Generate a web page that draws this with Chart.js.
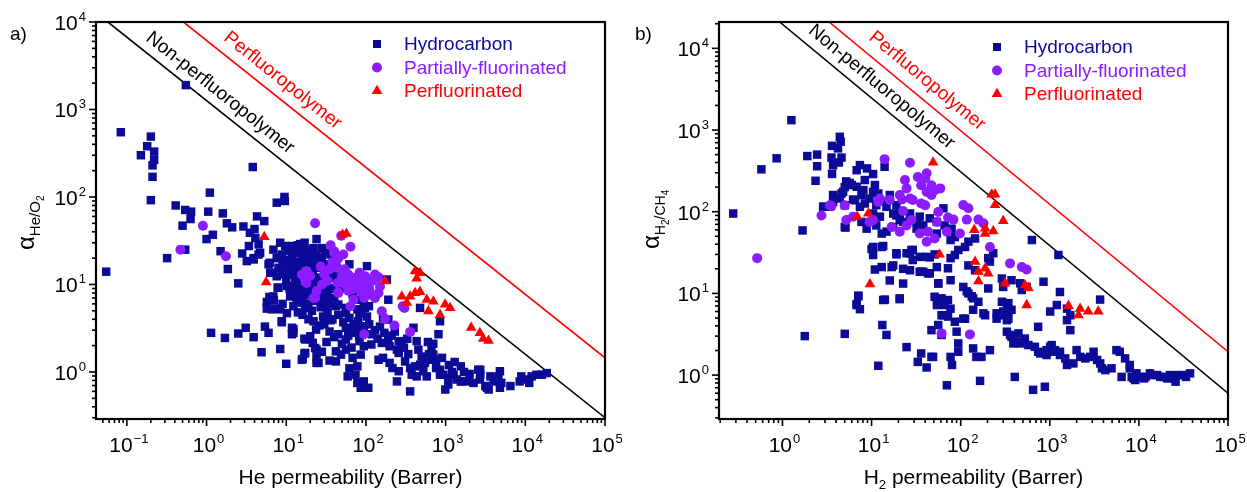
<!DOCTYPE html>
<html><head><meta charset="utf-8">
<script src="https://cdn.jsdelivr.net/npm/chart.js@4.4.0/dist/chart.umd.min.js"></script>
<style>
html,body{margin:0;padding:0;background:#fff;}
#wrap{position:relative;width:1247px;height:492px;overflow:hidden;background:#fff;}
.pane{position:absolute;top:0;height:492px;}
#pa{left:0;width:623px;}
#pb{left:623px;width:624px;}
canvas{display:block;}
</style></head><body>
<div id="wrap"><div class="pane" id="pa"><canvas id="ca" width="623" height="492"></canvas></div><div class="pane" id="pb"><canvas id="cb" width="624" height="492"></canvas></div></div>
<script>
// ---------------- DATA ----------------
const seriesNames = ['Hydrocarbon','Partially-fluorinated','Perfluorinated'];
const xTickExpsA = [-1,0,1,2,3,4,5];
const yTickExpsA = [0,1,2,3,4];
const xTickExpsB = [0,1,2,3,4,5];
const yTickExpsB = [0,1,2,3,4];

// Panel a: He permeability (Barrer) vs He/O2 selectivity
const hydroA = [[0.055,14],[0.084,550],[0.2,490],[0.18,380],[0.15,300],[0.22,330],[0.22,265],[0.21,230],[0.21,170],[0.2,92],[0.55,1900],[3.8,220],[0.41,80],[0.54,71],[0.64,68],[0.63,56],[0.5,47],[1.1,112],[1.05,68],[1.6,65],[1.8,50],[2.1,45],[1.0,33],[1.2,37],[2.9,46],[4.3,60],[5.3,53],[4,43],[3.5,39],[7.6,86],[9.5,100],[9.6,90],[24,33],[0.32,20],[0.54,25],[1.5,24],[1.85,15],[2.5,10.3],[2.8,22.6],[3.2,18.5],[3.9,19.3],[1.14,2.8],[1.7,2.45],[2.5,2.75],[3.1,3.2],[3.9,2.5],[5.4,3.3],[6,2.8],[4.9,1.68],[8.4,1.83],[8.8,3.7],[10,1.24],[12.3,3.1],[11.8,2.7],[16.9,1.62],[16.1,1.41],[16.9,2.4],[20,2.56],[21.5,2.15],[23.7,3.05],[24,1.27],[24,1.8],[5.7,6.3],[7,6.6],[5.7,5.3],[6.5,5.3],[8.2,5.3],[10.2,4.7],[7.8,9.2],[6.15,7.2],[6.2,17.7],[7.6,20],[6.3,13.6],[7.6,12.4],[4.7,23],[4.1,34],[3.4,27.5],[4.5,28.7],[3.9,20],[4.5,22],[6,17],[6.9,25],[8.4,30],[9.7,27.5],[11.8,27.5],[13.6,23],[15.7,22],[19,20],[22,17],[25.4,15.5],[8.8,22],[10.2,17],[8,15.5],[6.6,13.6],[9.2,13],[11.2,13.6],[13,15.5],[15,13],[8,9.2],[6.9,7.3],[6.6,5.2],[8.4,5.2],[8.8,3.8],[10.2,9.6],[11.2,7.3],[13.6,7.7],[15.7,6.2],[17.3,5.4],[12.3,5.65],[11.8,3.2],[12.3,2.8],[17.3,2.35],[23,1.88],[17.3,1.65],[15.7,1.38],[24,1.45],[25.4,1.27],[42,1.72],[48.7,1.58],[56,1.8],[68,1.45],[78,1.16],[62,1.1],[59,0.89],[74,0.93],[78,0.75],[94,0.78],[107,0.66],[42,1.32],[45,2.7],[56,3.2],[64,2.9],[70,3.5],[80,3.8],[83,2.25],[94,1.97],[56,2.35],[80,3.2],[94,2.9],[62,4.15],[45,4.5],[42,5.65],[56,5.4],[78,5.2],[94,6.4],[83,4.7],[103,4.3],[51,14.2],[62,17],[64,11.9],[83,6.7],[97,5.4],[103,16.2],[56,4.7],[45,5.9],[68,7.7],[183,11.4],[191,6.7],[478,5.4],[851,3.8],[813,2.7],[89,4.95],[109,5.65],[164,4.15],[191,3.97],[86,3.33],[82,2.56],[117,2.06],[158,2.15],[191,2.35],[198,1.97],[258,2.25],[245,1.8],[258,1.65],[395,3.2],[433,2.25],[455,1.8],[310,1.32],[86,1.58],[144,1.38],[164,1.45],[198,1.27],[215,1.11],[258,1.02],[359,1.11],[414,1.16],[478,1.21],[550,1.27],[630,1.38],[700,1.58],[665,1.8],[760,1.38],[580,0.89],[375,0.93],[433,0.89],[525,1.02],[245,0.78],[359,0.6],[86,0.66],[850,1.06],[935,0.93],[1080,0.85],[1260,0.93],[1380,0.82],[1590,0.78],[1950,0.78],[2240,0.75],[990,0.63],[1550,1.16],[2570,1.06],[2690,0.82],[3300,0.66],[2720,1.06],[2720,0.93],[3650,0.89],[4000,0.78],[3150,0.69],[3470,0.63],[4600,0.89],[5000,0.75],[4800,0.66],[6500,0.69],[8900,0.89],[10200,0.82],[12000,0.89],[13800,0.93],[16100,0.93],[18600,0.97],[8500,0.78],[11200,0.75],[4800,1.02],[760,1.11],[850,0.93],[1550,0.78],[1080,0.72],[12,20],[14,18],[16,25],[18,14],[20,11],[22,9],[26,12],[28,20],[30,8],[32,11],[34,6],[13,11],[15,9],[17,7.5],[19,6],[21,5],[24,6.5],[27,5.5],[30,14],[35,9],[38,12],[40,7],[10,11],[11,19],[14,28],[17,30],[19,25],[24,22],[28,26],[9,6],[12,8.5],[26,9.5],[33,17],[36,22],[45,11],[50,9],[40,16],[10.5,24],[16,11.5],[21,14],[23,19],[29,16],[31,23],[13.5,6.5],[18.5,8.5],[30,3.5],[35,2.9],[38,4],[32,2.2],[28,1.7],[35,1.35],[40,2.5],[50,2.1],[52,3.7],[60,2.6],[66,1.9],[72,2.8],[110,3.5],[120,2.7],[130,3],[140,2.4],[150,3.3],[170,2.8],[210,2.6],[230,2.9],[280,2.1],[300,1.9],[330,2.4],[340,1.6],[500,1.5],[600,2.2],[620,1.6],[700,2.1],[900,1.45],[1100,1.2],[1300,1.3],[1700,1.0],[2000,0.95],[1200,1.0],[11,15],[12.5,13],[14,16],[15.5,17.5],[17,19],[18.5,16],[20,14.5],[21.5,12.5],[23,11],[25,10],[27,8.5],[29,11.5],[31,9.5],[33,7.5],[36,6.5],[39,9],[42,13],[47,12],[55,9.8],[12,24],[13,26],[15,29],[17,21],[20,23],[22,26],[25,19],[27,17],[9,18],[10,14],[11,9],[13.5,9.5],[16,8],[18,10.5],[20,8],[23,8],[25,7],[28,6.8],[31,5.5],[14,4.8],[16,4.5],[19,4],[22,3.8],[26,3.4],[29,4.3],[33,4.8],[36,3.9]];
const partialA = [[0.47,25],[0.9,47],[1.75,21],[23,50],[49,36],[64,27],[40,24],[45,20],[42,17],[54,14.9],[15.7,13],[18,10.4],[24,8.4],[22,7],[44,10.4],[45,8.1],[62,10.4],[74,11.9],[83,13.6],[68,8.8],[70,6.7],[64,5.65],[88,8.4],[103,10.9],[98,12.4],[144,12.1],[102,10.4],[107,9.6],[89,8],[113,7.7],[144,8],[130,7],[158,4.95],[228,3.4],[304,5.4],[359,2.87],[95,2.7],[18,14.2],[40,23],[44,15.5],[58,11.4],[89,11.9],[174,4],[290,5.65],[28,10],[17.3,11.4],[23,7],[45,8],[30,13],[35,15],[38,18],[33,11],[50,12.5],[55,10],[60,13],[75,10],[80,9.5],[90,10],[120,11],[130,13],[150,9.5],[110,9],[95,7],[60,8.5],[52,22],[36,28],[27,16],[20,12.5]];
const perfluoroA = [[5.3,35],[5.6,10.6],[51,37],[57,38],[174,10.9],[414,14.2],[478,13.6],[433,11.7],[282,7.3],[359,7.3],[414,8],[478,8.25],[326,6.2],[580,6.7],[703,6.4],[608,4.95],[986,5.9],[1140,5.4],[851,4.5],[2090,3.2],[2690,2.8],[2960,2.4],[3450,2.28]];
const boundNonPerfA = [[0.0578,1e4],[1e5,0.30]];
const boundPerfA = [[0.513,1e4],[1e5,1.45]];

// Panel b: H2 permeability (Barrer) vs H2/CH4 selectivity
const hydroB = [[0.28,95],[1.26,1320],[0.58,330],[0.86,450],[1.68,59],[1.9,480],[2.45,500],[2.45,360],[2.35,239],[3.6,640],[4.4,826],[4.5,720],[4.2,596],[3.55,460],[4.6,460],[4.3,400],[3.7,370],[3.6,290],[2.9,115],[3.4,115],[3.7,132],[4.6,167],[5,200],[5.7,225],[5.1,64],[6.8,322],[7.4,372],[8.9,339],[8.4,244],[10.4,289],[14,355],[6.2,141],[7.4,115],[8.4,126],[10.4,95],[12.4,87],[14.7,115],[17.5,95],[20.7,79],[27,95],[34.7,87],[5.2,235],[6,212],[4.8,175],[6.8,202],[8.1,184],[7.7,160],[10.9,212],[10.4,175],[9.5,145],[6.5,138],[11.9,167],[3.7,160],[4.4,145],[2.86,115],[5,120],[11.3,120],[14.7,133],[16,160],[19,120],[20.7,100],[5,65],[7.7,75],[8.8,62],[11.3,68],[13,54],[14.7,57],[17.5,65],[19,90],[22.6,75],[27,83],[32,75],[32,62],[38,68],[45,83],[54,75],[10,35],[10.4,29.5],[13,37],[19,31],[24.7,31],[28,34],[34.7,28],[41.5,28],[51,30],[29,25.6],[38,18.4],[45,17.6],[10.9,19.6],[13,21],[16.8,21],[22.6,20],[27,19.2],[36,18.4],[16,14.4],[22.6,13.2],[7.1,9.4],[6.8,7.4],[7.4,6.4],[14.1,8.4],[20.7,8.7],[13.2,4.1],[14.7,3.1],[24.7,2.2],[47,3.55],[5,3.2],[1.78,3],[630,45],[1250,29.5],[850,13.9],[1300,10.4],[64,110],[66,68],[79,62],[86,49],[77,45],[54,54],[122,43],[145,47],[232,31],[204,27],[213,24.5],[77,27],[86,29.5],[94,34],[112,37],[72,20.3],[77,14.5],[56,13.3],[122,22],[145,19.2],[117,10.6],[133,9.2],[158,7.9],[204,11.5],[290,15.2],[300,12],[372,14.5],[465,13.3],[485,11],[550,12],[290,7.9],[330,7.3],[253,5.7],[300,6],[343,4.9],[372,6.3],[188,5.4],[253,4.9],[330,3.4],[372,2.94],[405,2.56],[465,2.44],[525,2.8],[575,2.33],[680,2.22],[740,1.93],[920,2.02],[1050,2.33],[1090,1.93],[1300,1.93],[740,3.9],[61,8.7],[72,8.3],[66,7.2],[77,6.5],[61,5.4],[86,4.5],[90,3.4],[112,4.9],[61,3.1],[780,1.84],[920,1.76],[1010,2.22],[1140,2.02],[1300,1.76],[1490,1.6],[1560,1.33],[1840,1.39],[2000,2.02],[2200,1.67],[2500,1.6],[2840,1.67],[3100,1.93],[3400,1.53],[3680,1.39],[3850,1.21],[4200,1.15],[4930,1.21],[5600,2.02],[6100,1.93],[7000,1.6],[7900,1.21],[6400,0.95],[8300,0.95],[9100,0.87],[10400,0.95],[11400,0.91],[13800,1.0],[16000,1.0],[19000,0.95],[20800,0.91],[25800,0.83],[27500,1.0],[32000,1.0],[37500,1.05],[7900,1.33],[9400,1.05],[8700,0.91],[11900,0.95],[13300,1.05],[17400,0.95],[22300,1.0],[24500,0.91],[33800,0.95],[1200,7.2],[1010,6],[1560,6.5],[1700,5.4],[1560,4.7],[1700,3.55],[3670,8.4],[650,0.66],[880,0.72],[405,0.95],[165,0.85],[358,3.1],[390,2.44],[465,2.56],[213,2.02],[138,2.12],[150,1.67],[171,1.67],[94,2.44],[94,1.93],[77,1.67],[80,1.33],[49,1.67],[70,0.75],[343,7.6],[343,6],[275,5.4],[330,4.7],[445,3.24],[180,5.7],[138,6.3],[107,12],[122,10],[138,8.7],[64,5.4],[72,5.2],[107,4.9],[7.1,9.2],[6.8,7.2],[10.4,37],[13.5,38],[19,30],[17.5,22],[13.5,8.3],[20.7,8.5],[36,1.84],[33,1.45],[41.5,1.24],[47,1.67],[11.9,1.3],[56,4.1],[54,7.2],[51,9.1],[34.7,18.4],[43,17.6],[45,27.6],[54,21],[56,13.2],[27,31],[29,34]];
const partialB = [[0.52,27],[14,440],[27,397],[2.74,90],[3.55,117],[5.2,79],[6.2,87],[10,78],[11.9,132],[16,139],[22,141],[23.7,244],[24.7,193],[29,139],[22.6,102],[41.5,295],[47,211],[51,182],[33,266],[40,255],[36,211],[41.5,175],[47,160],[20.7,160],[27,145],[36,126],[40,120],[28,79],[24.7,68],[20.7,57],[16.8,65],[12.4,145],[10.4,79],[9.5,75],[5,120],[3.4,120],[34.7,54],[43,57],[51,47],[41.5,43],[59,193],[107,121],[122,110],[72,85],[83,80],[117,80],[158,80],[180,72],[98,54],[70,57],[213,37],[358,23.3],[485,21],[550,19.6],[56,99],[54,75],[61,3.24],[127,3.15]];
const perfluoroB = [[6.9,87],[9.2,95],[9.6,13],[49,400],[58,30],[223,163],[243,163],[243,121],[300,77],[142,60],[188,62.5],[188,54],[232,58],[145,24.4],[158,18.4],[188,20.2],[204,17.6],[158,14.1],[315,13.3],[527,12.6],[575,11.7],[550,7.2],[1620,7.05],[2190,6.5],[2100,5.4],[2700,6],[3500,6]];
const boundNonPerfB = [[0.93,2.1e4],[1e5,0.60]];
const boundPerfB = [[3.34,2.1e4],[1e5,1.93]];

// ---------------- STYLE ----------------
const FONT = "'Liberation Sans', Arial, Helvetica, sans-serif";
const C_HYD = '#0b0b98', C_PAR = '#8a1cff', C_PER = '#ff0000';
const toPts = arr => arr.map(p => ({x:p[0], y:p[1]}));

function drawMarker(ctx, kind, x, y, color){
  ctx.fillStyle = color;
  ctx.beginPath();
  if(kind==='rect'){ ctx.rect(x-4, y-4, 8, 8); }
  else if(kind==='circle'){ ctx.arc(x, y, 5, 0, Math.PI*2); }
  else { const r=6.2; ctx.moveTo(x, y-r); ctx.lineTo(x+r*0.866, y+r/2); ctx.lineTo(x-r*0.866, y+r/2); ctx.closePath(); }
  ctx.fill();
}

function powLabel(ctx, exp, x, y, align){
  const base='10', sup=String(exp).replace('-','\u2212');
  ctx.font = '21px '+FONT; const wb = ctx.measureText(base).width;
  ctx.font = '13px '+FONT; const ws = ctx.measureText(sup).width;
  const w = wb+ws+1;
  let x0 = align==='center' ? x - w/2 : x - w;
  ctx.textAlign='left'; ctx.textBaseline='alphabetic';
  ctx.fillStyle='#000';
  ctx.font='21px '+FONT; ctx.fillText(base, x0, y);
  ctx.font='13px '+FONT; ctx.fillText(sup, x0+wb+1, y-9);
}

const deco = {
  id:'deco',
  afterDraw(chart, args, o){
    const ctx=chart.ctx, a=chart.chartArea, xs=chart.scales.x, ys=chart.scales.y;
    ctx.save();
    ctx.strokeStyle='#000'; ctx.lineWidth=1.6;
    const lx=Math.log10(xs.min), hx=Math.log10(xs.max), ly=Math.log10(ys.min), hy=Math.log10(ys.max);
    for(let e=Math.floor(lx); e<=Math.ceil(hx); e++){
      for(let m=1;m<10;m++){
        const v=m*Math.pow(10,e); const lv=Math.log10(v);
        if(lv<lx-1e-6||lv>hx+1e-6) continue;
        const px=xs.getPixelForValue(v); const len=m===1?7:4;
        ctx.beginPath(); ctx.moveTo(px,a.bottom); ctx.lineTo(px,a.bottom+len); ctx.stroke();
      }
    }
    for(let e=Math.floor(ly); e<=Math.ceil(hy); e++){
      for(let m=1;m<10;m++){
        const v=m*Math.pow(10,e); const lv=Math.log10(v);
        if(lv<ly-1e-6||lv>hy+1e-6) continue;
        const py=ys.getPixelForValue(v); const len=m===1?7:4;
        ctx.beginPath(); ctx.moveTo(a.left,py); ctx.lineTo(a.left-len,py); ctx.stroke();
      }
    }
    ctx.lineWidth=2.2; ctx.strokeRect(a.left, a.top, a.right-a.left, a.bottom-a.top);
    o.xTicks.forEach(e=>{ powLabel(ctx, e, xs.getPixelForValue(Math.pow(10,e))+2, a.bottom+33, 'center'); });
    o.yTicks.forEach(e=>{ powLabel(ctx, e, a.left-10, ys.getPixelForValue(Math.pow(10,e))+8, 'right'); });
    o.lineLabels.forEach(L=>{
      const X0=xs.getPixelForValue(L.p[0][0]), Y0=ys.getPixelForValue(L.p[0][1]);
      const X1=xs.getPixelForValue(L.p[1][0]), Y1=ys.getPixelForValue(L.p[1][1]);
      const ang=Math.atan2(Y1-Y0, X1-X0);
      const ax=xs.getPixelForValue(L.at); const t=(ax-X0)/(X1-X0); const ay=Y0+t*(Y1-Y0);
      const nx=Math.sin(ang), ny=-Math.cos(ang);
      ctx.save(); ctx.translate(ax+nx*L.off, ay+ny*L.off); ctx.rotate(ang);
      ctx.font='19px '+FONT; ctx.fillStyle=L.color; ctx.textAlign='center'; ctx.textBaseline='middle';
      ctx.fillText(L.text, 0, 0); ctx.restore();
    });
    const kinds=['rect','circle','triangle'], cols=[C_HYD,C_PAR,C_PER];
    seriesNames.forEach((n,i)=>{
      const yy=o.legend.y+i*23.5;
      drawMarker(ctx, kinds[i], o.legend.mx, yy, cols[i]);
      ctx.font='19px '+FONT; ctx.fillStyle=cols[i]; ctx.textAlign='left'; ctx.textBaseline='middle';
      ctx.fillText(n, o.legend.tx, yy+1);
    });
    ctx.font='19px '+FONT; ctx.fillStyle='#000'; ctx.textAlign='left'; ctx.textBaseline='middle';
    ctx.fillText(o.panel, o.panelX, 35);
    ctx.textBaseline='alphabetic';
    const xt=o.xTitle;
    ctx.font='21px '+FONT; const w1=ctx.measureText(xt[0]).width, w3=ctx.measureText(xt[2]).width;
    ctx.font='13px '+FONT; const w2=xt[1]?ctx.measureText(xt[1]).width:0;
    let x0=(a.left+a.right)/2-(w1+w2+w3)/2; const yb=484;
    ctx.font='21px '+FONT; ctx.fillText(xt[0], x0, yb);
    if(xt[1]){ ctx.font='13px '+FONT; ctx.fillText(xt[1], x0+w1, yb+5); }
    ctx.font='21px '+FONT; ctx.fillText(xt[2], x0+w1+w2, yb);
    ctx.save(); ctx.translate(o.yTitle.x, o.yTitle.y); ctx.rotate(-Math.PI/2);
    ctx.textAlign='left'; ctx.textBaseline='alphabetic';
    let cx=0;
    o.yTitle.parts.forEach(p=>{ ctx.font=p.s+'px '+FONT; ctx.fillText(p.t, cx, p.dy); cx+=ctx.measureText(p.t).width; });
    ctx.restore();
    ctx.restore();
  }
};

function makeChart(id, cfg){
  const ds = [
    {label:'bound-non', data:toPts(cfg.bNon), showLine:true, borderColor:'#000', borderWidth:1.6, pointRadius:0, fill:false, order:10},
    {label:'bound-perf', data:toPts(cfg.bPer), showLine:true, borderColor:'#ff0000', borderWidth:1.6, pointRadius:0, fill:false, order:9},
    {label:seriesNames[0], data:toPts(cfg.h), pointStyle:'rect', pointRadius:6.0, backgroundColor:C_HYD, borderWidth:0, order:3},
    {label:seriesNames[1], data:toPts(cfg.p), pointStyle:'circle', pointRadius:5.0, backgroundColor:C_PAR, borderWidth:0, order:2},
    {label:seriesNames[2], data:toPts(cfg.f), pointStyle:'triangle', pointRadius:6.2, backgroundColor:C_PER, borderWidth:0, order:1}
  ];
  return new Chart(document.getElementById(id), {
    type:'scatter',
    data:{datasets:ds},
    options:{
      responsive:false, animation:false, events:[],
      layout:{padding:{left:0,right:cfg.padR,top:22,bottom:0}},
      plugins:{legend:{display:false}, tooltip:{enabled:false}, deco:cfg.deco},
      scales:{
        x:{type:'logarithmic', min:cfg.xmin, max:cfg.xmax, grid:{display:false}, border:{display:false}, ticks:{display:false},
           afterFit(s){ s.height=73; }},
        y:{type:'logarithmic', min:cfg.ymin, max:cfg.ymax, grid:{display:false}, border:{display:false}, ticks:{display:false},
           afterFit(s){ s.width=96; }}
      }
    },
    plugins:[deco]
  });
}

makeChart('ca', {
  h:hydroA, p:partialA, f:perfluoroA, bNon:boundNonPerfA, bPer:boundPerfA,
  xmin:0.041, xmax:1e5, ymin:0.29, ymax:1e4, padR:18,
  deco:{ xTicks:xTickExpsA, yTicks:yTickExpsA, panel:'a)', panelX:10,
    legend:{mx:377, tx:404, y:44},
    lineLabels:[{p:boundNonPerfA, at:1.14, off:14.5, text:'Non-perfluoropolymer', color:'#000'},
                {p:boundPerfA, at:6.75, off:16, text:'Perfluoropolymer', color:'#ff0000'}],
    xTitle:['He permeability (Barrer)','',''],
    yTitle:{x:34, y:250, parts:[{t:'\u03b1',s:24,dy:0},{t:'He/O',s:15,dy:6},{t:'2',s:10,dy:10}]}
  }
});
makeChart('cb', {
  h:hydroB, p:partialB, f:perfluoroB, bNon:boundNonPerfB, bPer:boundPerfB,
  xmin:0.194, xmax:1e5, ymin:0.29, ymax:2.1e4, padR:19,
  deco:{ xTicks:xTickExpsB, yTicks:yTickExpsB, panel:'b)', panelX:12,
    legend:{mx:374, tx:401, y:47},
    lineLabels:[{p:boundNonPerfB, at:10.1, off:15, text:'Non-perfluoropolymer', color:'#000'},
                {p:boundPerfB, at:31.8, off:17, text:'Perfluoropolymer', color:'#ff0000'}],
    xTitle:['H','2',' permeability (Barrer)'],
    yTitle:{x:36, y:249, parts:[{t:'\u03b1',s:24,dy:0},{t:'H',s:14,dy:6},{t:'2',s:10,dy:10},{t:'/CH',s:14,dy:6},{t:'4',s:10,dy:10}]}
  }
});
</script>
</body></html>
